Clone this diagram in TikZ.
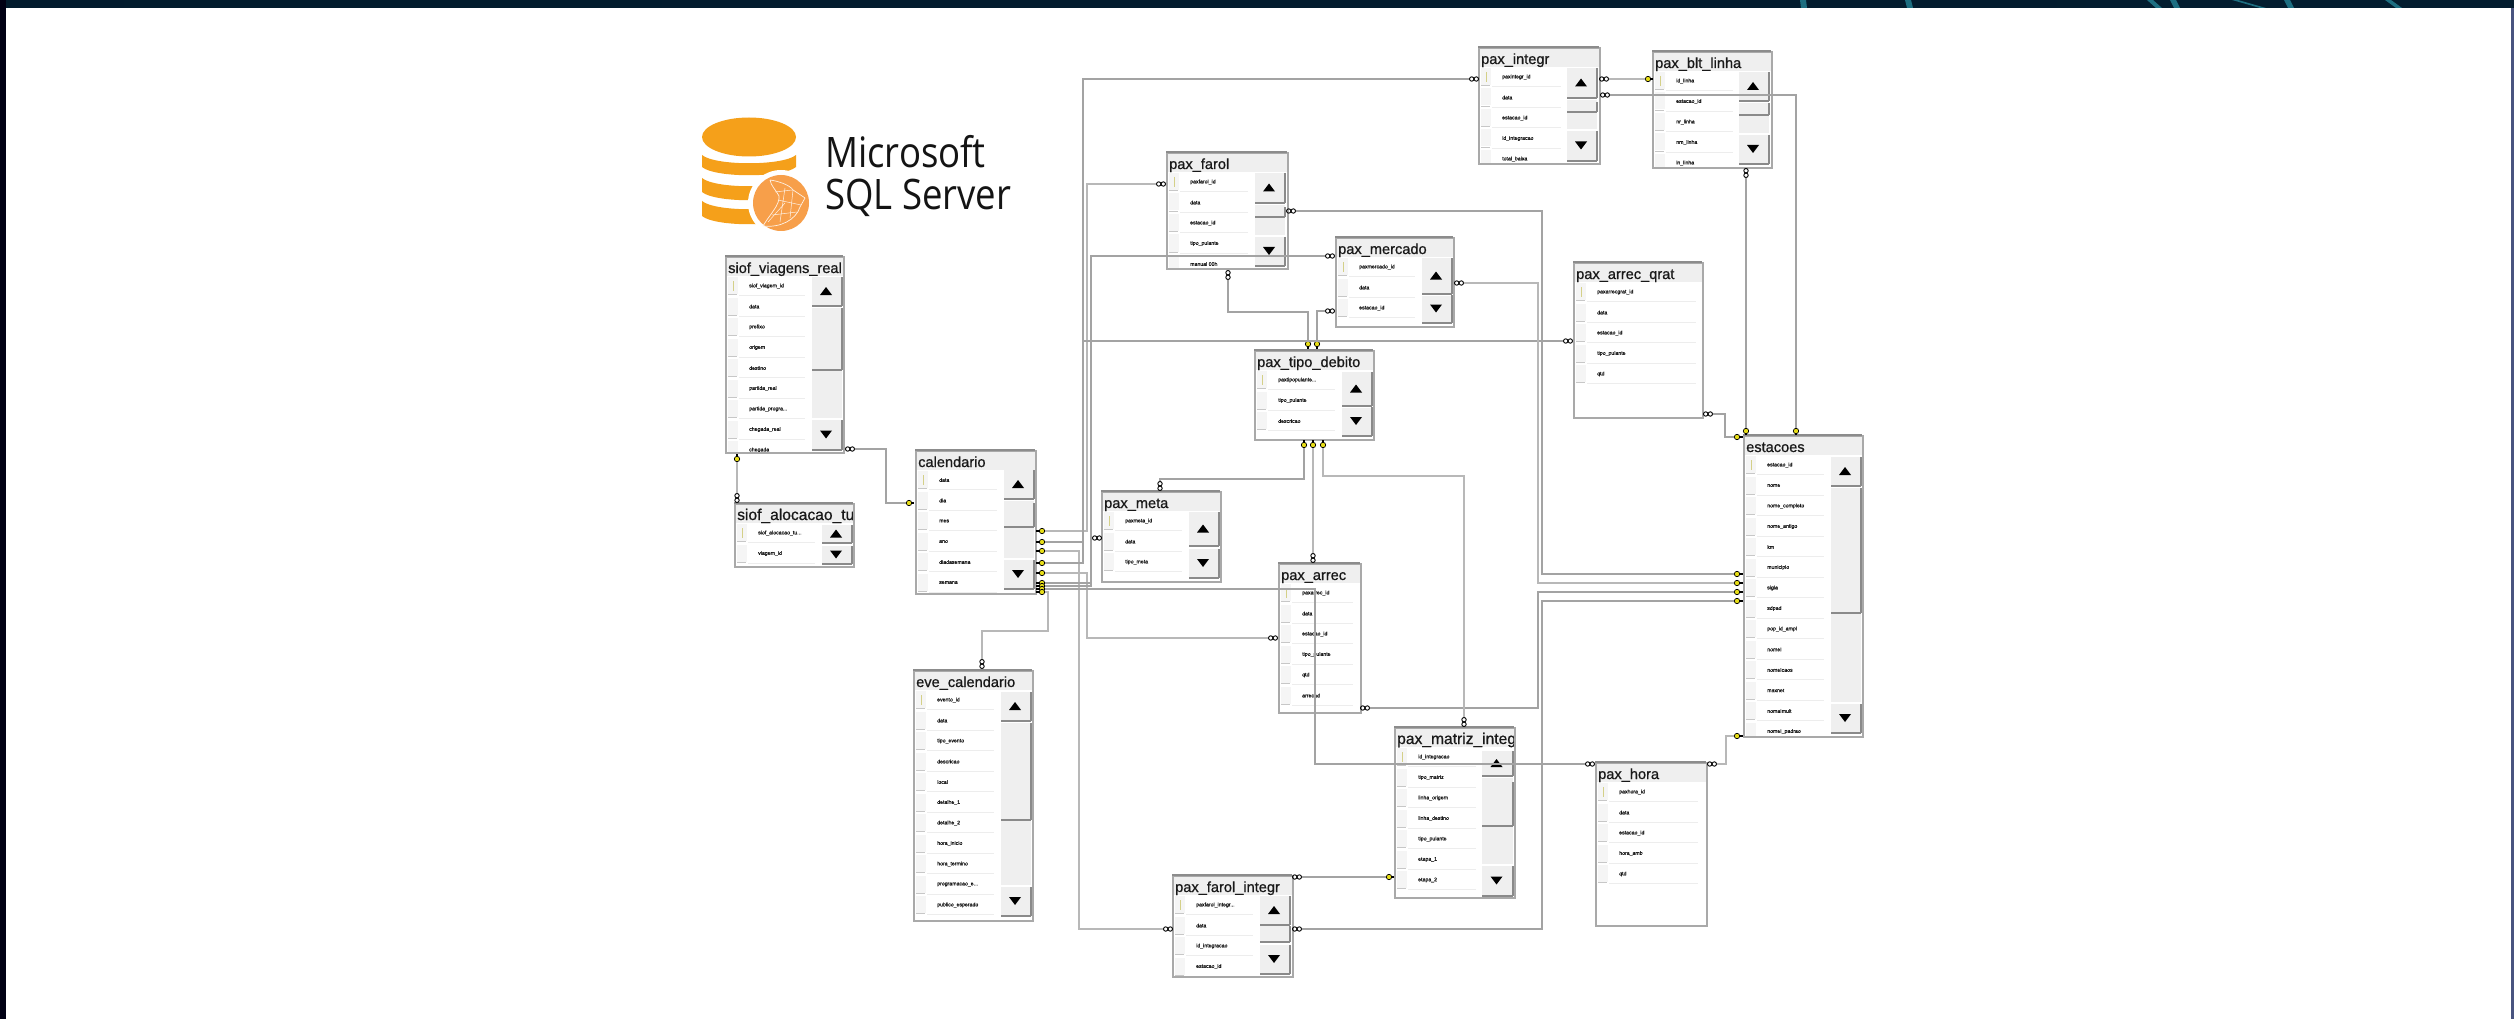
\documentclass[tikz,border=0pt]{standalone}
\usepackage{fontspec}
\usetikzlibrary{calc}
\setmainfont{Liberation Sans}
\newfontfamily\titlefont[FakeBold=0.8]{Liberation Sans}
\newfontfamily\rowfont[FakeBold=0.8]{Liberation Sans}
\newfontfamily\logofont[FakeStretch=0.87]{Open Sans}
\newcommand{\ddd}{.\kern0pt.\kern0pt.}
\newcommand{\widettl}{\fontsize{15.6}{16}\selectfont}
\definecolor{tborder}{HTML}{A9A9A9}
\definecolor{ttop}{HTML}{8C8C8C}
\definecolor{tfill}{HTML}{EFEFEF}
\definecolor{sep}{HTML}{EDEDED}
\definecolor{sdark}{HTML}{8A8A8A}
\definecolor{orangeA}{HTML}{F5A01A}
\definecolor{orangeB}{HTML}{F79F4A}
\definecolor{streak}{HTML}{2FA5B8}
\pgfdeclarehorizontalshading{bandshadeB}{2514bp}{
  rgb(0bp)=(0,.012,.05);
  rgb(628bp)=(0,.05,.1);
  rgb(1257bp)=(.01,.11,.18);
  rgb(1885bp)=(.01,.18,.27);
  rgb(2514bp)=(.03,.27,.36)}
\tikzset{
  x=1pt,y=-1pt,
  tbl/.style={draw=tborder,line width=2pt,anchor=north west,inner sep=0pt},
  ttl/.style={anchor=base west,inner sep=0pt,font=\titlefont\fontsize{14.6}{15}\selectfont,text=black!90},
  fld/.style={anchor=west,inner sep=0pt,font=\rowfont\fontsize{5.2}{6}\selectfont,text=black!90},
  infend/.style={inner sep=0pt,minimum width=9pt,minimum height=5pt},
  infendv/.style={inner sep=0pt,minimum width=5pt,minimum height=9pt},
  keyend/.style={circle,inner sep=0pt,minimum size=5.4pt,draw=black,line width=.7pt,fill=yellow!90!black},
  lnA/.style={draw=black!28,line width=1.3pt},
  lnB/.style={draw=black!36,line width=2pt},
}
% name, x1,y1,x2,y2, title, rows, right end of the rows
\newcommand{\dbtable}[8]{%
  \pgfmathsetmacro{\tblW}{#4-#2}\pgfmathsetmacro{\tblH}{#5-#3}%
  \fill[white] (#2,#3) rectangle (#4,#5);
  \begin{scope}
    \clip (#2,#3) rectangle (#4,#5);
    \fill[tfill] (#2,#3) rectangle (#4,#3+20);
    \node[ttl] (#1-title) at (#2+3,#3+17) {#6};
    \foreach \fldname [count=\fldno] in {#7} {
      \pgfmathsetmacro{\cy}{#3+30+20.5*(\fldno-1)}
      \fill[tfill!60] (#2+3,\cy-9) rectangle (#2+13,\cy+8);
      \draw[black!22,line width=1pt] (#2+3,\cy+8.7) -- (#2+12,\cy+8.7);
      \draw[sep,line width=.8pt] (#2+14,\cy+9.8) -- (#8,\cy+9.8);
      \node[fld] (#1-f\fldno) at (#2+24,\cy) {\fldname};
    }
    \draw[yellow!65!black!55,line width=.9pt] (#2+8,#3+25) -- (#2+8,#3+35);
  \end{scope}
  \node[tbl,minimum width=\tblW pt,minimum height=\tblH pt] (#1) at (#2,#3) {};
  \draw[ttop,line width=2.2pt] (#2,#3) -- (#4,#3);
}
% x-left, x-right, uptop, upbot, thumbtop, thumbbot, downtop, downbot
\newcommand{\sbar}[8]{%
  \fill[tfill] (#1,#3) rectangle (#2,#8);
  \fill[white] (#1,#4) rectangle (#2,#4+3);
  \ifdim #5pt<#6pt
    \fill[tfill] (#1,#5) rectangle (#2,#6);
    \draw[sdark,line width=2pt] (#2-.5,#5) -- (#2-.5,#6) (#1,#6) -- (#2,#6);
  \fi
  \fill[white] (#1,#7-2) rectangle (#2,#7);
  \draw[sdark,line width=2pt] (#2-.5,#3) -- (#2-.5,#4+1) (#1,#4+1) -- (#2,#4+1);
  \draw[sdark,line width=2pt] (#2-.5,#7) -- (#2-.5,#8+1) (#1,#8+1) -- (#2,#8+1);
  \pgfmathsetmacro{\cx}{(#1+#2)/2-1}
  \pgfmathsetmacro{\cu}{(#3+#4)/2}
  \pgfmathsetmacro{\cd}{(#7+#8)/2}
  \fill[black] (\cx-6,\cu+4) -- (\cx+6,\cu+4) -- (\cx,\cu-4) -- cycle;
  \fill[black] (\cx-6,\cd-4) -- (\cx+6,\cd-4) -- (\cx,\cd+4) -- cycle;
}
\newcommand{\infH}[3]{\node[infend] (#1) at (#2,#3) {};
  \draw[black,line width=.9pt] (#1.center)++(-2.3,0) circle (2.2pt) (#1.center)++(2.3,0) circle (2.2pt);}
\newcommand{\infV}[3]{\node[infendv] (#1) at (#2,#3) {};
  \draw[black,line width=.9pt] (#1.center)++(0,-2.3) circle (2.2pt) (#1.center)++(0,2.3) circle (2.2pt);}
% name,x,y,stem dx,stem dy
\newcommand{\keyE}[5]{\node[keyend] (#1) at (#2,#3) {};
  \draw[black,line width=1.3pt] (#1) -- ($(#1.center)+(#4,#5)$);}
\begin{document}
\begin{tikzpicture}
\useasboundingbox (0,0) rectangle (2514,1019);
\fill[white] (0,0) rectangle (2514,1019);
\shade[shading=bandshadeB] (0,0) rectangle (2514,8);
\fill[black!92!blue] (0,0) rectangle (6,1019);
\fill[black!70!cyan!60!blue] (2511,8) rectangle (2514,1019);
\foreach \sa/\sb in {2147/2158,2170/2176,2232/2262,2284/2290,2385/2398,1800/1803,1905/1909}
  \fill[streak,opacity=.6] (\sa,0) -- (\sa+6,0) -- (\sb+4,8) -- (\sb-2,8) -- cycle;

% logo
\fill[orangeA] (749,137) ellipse [x radius=47pt,y radius=19.5pt];
\foreach \bt/\bb in {155/167,178/192,201/216}
  \fill[orangeA] (702,\bt) .. controls (715,\bt+11) and (783,\bt+11) .. (796,\bt) -- (796,\bb) .. controls (783,\bb+11) and (715,\bb+11) .. (702,\bb) -- cycle;
\fill[white] (781,203) circle (33pt);
\fill[orangeB] (781,203) circle (28pt);
\draw[white!85!orangeB,line width=.7pt,line join=round]
  (770,180) .. controls (778,181) and (790,185) .. (793,190) -- (805,198) -- (800,207)
  .. controls (796,220) and (780,228) .. (763,226) .. controls (770,214) and (780,205) .. (779,196) .. controls (776,190) and (771,186) .. (770,180);
\draw[white!85!orangeB,line width=.5pt] (775,192) -- (792,190) (778,200) -- (801,205) (772,215) -- (797,212) (768,222) -- (785,203) (785,188) -- (780,222) (793,190) -- (790,218);
\node[anchor=base west,inner sep=0pt,font=\logofont\fontsize{42}{44}\selectfont,text=black!92] (logoA) at (825,168) {Microsoft};
\node[anchor=base west,inner sep=0pt,font=\logofont\fontsize{42}{44}\selectfont,text=black!92] (logoB) at (825,210) {SQL Server};

% tables
\dbtable{viagens}{725}{256}{843}{452}{siof\_viagens\_real}{siof\_viagem\_id,data,prefixo,origem,destino,partida\_real,partida\_progra\ddd,chegada\_real,chegada}{805}
\sbar{812}{842}{277}{305}{308}{370}{420}{449}
\dbtable{alocacao}{734}{503}{853}{566}{\widettl siof\_alocacao\_tue}{siof\_alocacao\_tu\ddd,viagem\_id}{815}
\sbar{822}{852}{525}{542}{0}{0}{546}{563}
\dbtable{calendario}{915}{450}{1035}{593}{calendario}{data,dia,mes,ano,diadasemana,semana}{997}
\sbar{1004}{1034}{470}{498}{503}{527}{560}{588}
\dbtable{evecal}{913}{670}{1032}{920}{eve\_calendario}{evento\_id,data,tipo\_evento,descricao,local,detalhe\_1,detalhe\_2,hora\_inicio,hora\_termino,programacao\_e\ddd,publico\_esperado}{994}
\sbar{1001}{1031}{692}{720}{723}{820}{887}{915}
\dbtable{meta}{1101}{491}{1220}{581}{pax\_meta}{paxmeta\_id,data,tipo\_meta}{1182}
\sbar{1189}{1219}{512}{545}{0}{0}{549}{577}
\dbtable{farol}{1166}{152}{1287}{268}{pax\_farol}{paxfarol\_id,data,estacao\_id,tipo\_pulante,manual 00h}{1248}
\sbar{1255}{1285}{173}{202}{207}{217}{237}{265}
\dbtable{integr}{1478}{47}{1599}{163}{pax\_integr}{paxintegr\_id,data,estacao\_id,id\_integracao,total\_baixa}{1561}
\sbar{1567}{1597}{68}{97}{102}{112}{131}{160}
\dbtable{linha}{1652}{51}{1771}{167}{pax\_blt\_linha}{id\_linha,estacao\_id,nr\_linha,nm\_linha,ln\_linha}{1733}
\sbar{1739}{1769}{72}{100}{103}{115}{135}{163}
\dbtable{mercado}{1335}{237}{1453}{326}{pax\_mercado}{paxmercado\_id,data,estacao\_id}{1415}
\sbar{1422}{1452}{258}{293}{0}{0}{295}{322}
\dbtable{qrat}{1573}{262}{1702}{417}{pax\_arrec\_qrat}{paxarrecgrat\_id,data,estacao\_id,tipo\_pulante,qtd}{1696}
\dbtable{debito}{1254}{350}{1373}{439}{pax\_tipo\_debito}{paxtipopulante\ddd,tipo\_pulante,descricao}{1335}
\sbar{1342}{1372}{372}{405}{0}{0}{407}{435}
\dbtable{estacoes}{1743}{435}{1862}{736}{estacoes}{estacao\_id,nome,nome\_completo,nome\_antigo,km,municipio,sigla,sdpad,pop\_id\_ampl,nomeI,nomeIcaos,maxnet,nomaImult,nomeI\_padrao}{1824}
\sbar{1831}{1861}{457}{485}{488}{613}{704}{732}
\dbtable{arrec}{1278}{563}{1360}{712}{pax\_arrec}{paxarrec\_id,data,estacao\_id,tipo\_pulante,qtd,arrecad}{1353}
\dbtable{matriz}{1394}{727}{1514}{897}{\widettl pax\_matriz\_integr}{id\_integracao,tipo\_matriz,linha\_origem,linha\_destino,tipo\_pulante,etapa\_1,etapa\_2}{1476}
\sbar{1482}{1513}{751}{775}{782}{826}{866}{895}
\dbtable{hora}{1595}{762}{1706}{925}{pax\_hora}{paxhora\_id,data,estacao\_id,hora\_amb,qtd}{1698}
\dbtable{farolint}{1172}{875}{1292}{976}{pax\_farol\_integr}{paxfarol\_integr\ddd,data,id\_integracao,estacao\_id}{1253}
\sbar{1260}{1290}{896}{924}{926}{942}{945}{973}

% connector ends
\infH{a1}{850}{449}\keyE{b1}{909}{503}{5}{0}
\infV{a2}{737}{498}\keyE{b2}{737}{459}{0}{-5}
\keyE{ck1}{1042}{531}{-6}{0}\infH{z1}{1161}{184}
\keyE{ck2}{1042}{542}{-6}{0}\infH{z2}{1474}{79}
\keyE{ck3}{1042}{551}{-6}{0}\infH{z3}{1168}{929}
\keyE{ck4}{1042}{563}{-6}{0}\infH{z4}{1568}{341}
\keyE{ck5}{1042}{573}{-6}{0}\infH{z5}{1273}{638}
\keyE{ck6}{1042}{583}{-6}{0}\infH{z6}{1330}{256}
\keyE{ck7}{1042}{586}{-6}{0}\infH{z7}{1097}{538}
\keyE{ck8}{1042}{589}{-6}{0}\infH{z8}{1590}{764}
\keyE{ck9}{1042}{592}{-6}{0}\infV{z9}{982}{664}
\infH{i1}{1604}{79}\keyE{l1}{1648}{79}{5}{0}
\infH{i2}{1605}{95}\keyE{e1}{1796}{431}{0}{4}
\infV{l2}{1746}{173}\keyE{e2}{1746}{431}{0}{4}
\infH{q1}{1708}{414}\keyE{e3}{1737}{437}{6}{0}
\infH{f1}{1291}{211}\keyE{e4}{1737}{574}{6}{0}
\infH{m1}{1459}{283}\keyE{e5}{1737}{583}{6}{0}
\infH{r1}{1365}{708}\keyE{e6}{1737}{592}{6}{0}
\infH{fi1}{1297}{929}\keyE{e7}{1737}{601}{6}{0}
\infH{h1}{1712}{764}\keyE{e8}{1737}{736}{6}{0}
\infV{mx1}{1464}{722}\keyE{d1}{1323}{445}{0}{-5}
\infV{r2}{1313}{558}\keyE{d2}{1313}{445}{0}{-5}
\infV{me1}{1160}{486}\keyE{d3}{1304}{445}{0}{-5}
\infV{f2}{1228}{275}\keyE{t1}{1308}{344}{0}{5}
\infH{m2}{1330}{311}\keyE{t2}{1317}{344}{0}{5}
\infH{fi2}{1297}{877}\keyE{mx2}{1389}{877}{5}{0}

% connectors
\draw[lnB] (a1) -- (886,449) -- (886,503) -- (b1);
\draw[lnA] (a2) -- (b2);
\draw[lnA] (ck1) -- (1087,531) -- (1087,184) -- (z1);
\draw[lnB] (ck2) -- (1083,542) -- (1083,79) -- (z2);
\draw[lnA] (ck3) -- (1079,551) -- (1079,929) -- (z3);
\draw[lnB] (ck4) -- (1083,563) -- (1083,341) -- (z4);
\draw[lnA] (ck5) -- (1087,573) -- (1087,638) -- (z5);
\draw[lnB] (ck6) -- (1091,583) -- (1091,256) -- (z6);
\draw[lnB] (ck7) -- (1091,586) -- (1091,538) -- (z7);
\draw[lnB] (ck8) -- (1315,589) -- (1315,764) -- (z8);
\draw[lnA] (ck9) -- (1048,592) -- (1048,631) -- (982,631) -- (z9);
\draw[lnA] (i1) -- (l1);
\draw[lnB] (i2) -- (1796,95) -- (e1);
\draw[lnB] (l2) -- (e2);
\draw[lnB] (q1) -- (1725,414) -- (1725,437) -- (e3);
\draw[lnB] (f1) -- (1542,211) -- (1542,574) -- (e4);
\draw[lnA] (m1) -- (1538,283) -- (1538,583) -- (e5);
\draw[lnB] (r1) -- (1538,708) -- (1538,592) -- (e6);
\draw[lnB] (fi1) -- (1542,929) -- (1542,601) -- (e7);
\draw[lnA] (h1) -- (1726,764) -- (1726,736) -- (e8);
\draw[lnA] (mx1) -- (1464,476) -- (1323,476) -- (d1);
\draw[lnA] (r2) -- (d2);
\draw[lnB] (me1) -- (1160,479) -- (1304,479) -- (d3);
\draw[lnB] (f2) -- (1228,312) -- (1308,312) -- (t1);
\draw[lnB] (m2) -- (1317,311) -- (t2);
\draw[lnB] (fi2) -- (mx2);
\end{tikzpicture}
\end{document}
